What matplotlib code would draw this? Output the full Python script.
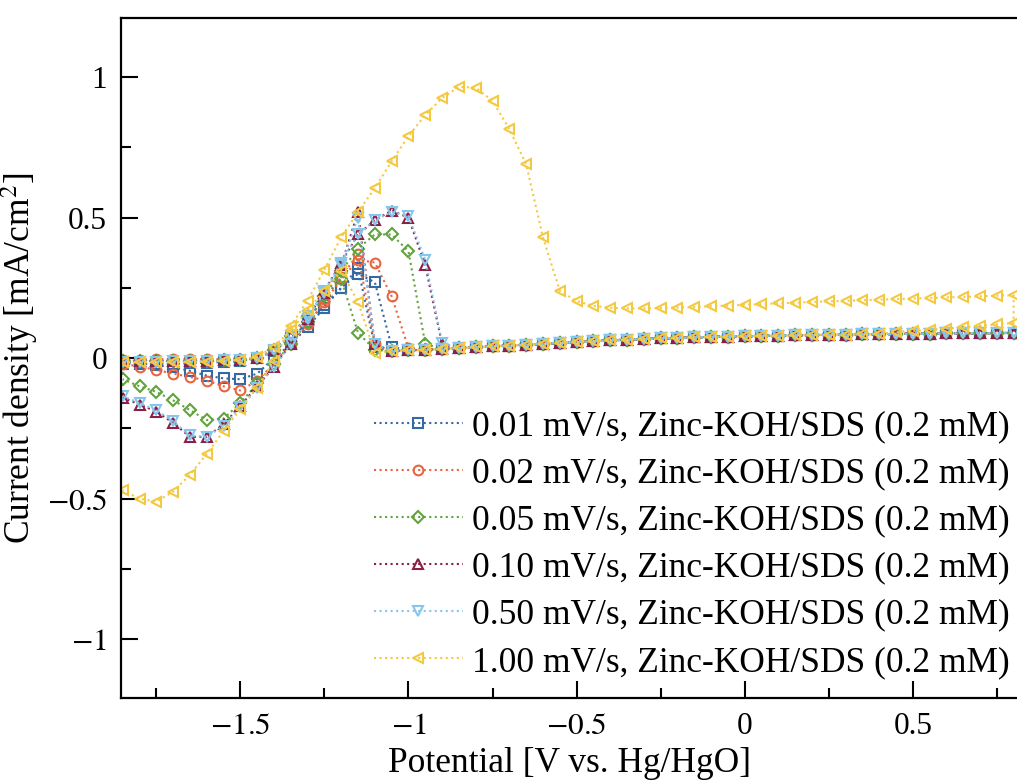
import matplotlib
matplotlib.use("Agg")
import matplotlib.pyplot as plt
import numpy as np

plt.rcParams['font.family'] = ['Liberation Serif', 'DejaVu Serif']
plt.rcParams['mathtext.fontset'] = 'stix'

# potential sweep [V vs. Hg/HgO]
potential = [-1.85, -1.80, -1.75, -1.70, -1.65, -1.60, -1.55, -1.50, -1.45, -1.40,
             -1.35, -1.30, -1.25, -1.20, -1.15, -1.10, -1.05, -1.00, -0.95, -0.90,
             -0.85, -0.80, -0.75, -0.70, -0.65, -0.60, -0.55, -0.50, -0.45, -0.40,
             -0.35, -0.30, -0.25, -0.20, -0.15, -0.10, -0.05, 0.00, 0.05, 0.10,
             0.15, 0.20, 0.25, 0.30, 0.35, 0.40, 0.45, 0.50, 0.55, 0.60,
             0.65, 0.70, 0.75, 0.80]

# passive region current (from -1.05 V upward), shared by all the slow scans
j_passive = [0.025, 0.028, 0.030, 0.033, 0.036, 0.039, 0.042, 0.045, 0.048, 0.051,
             0.054, 0.057, 0.060, 0.063, 0.066, 0.068, 0.070, 0.072, 0.074, 0.076,
             0.077, 0.078, 0.079, 0.080, 0.081, 0.082, 0.083, 0.084, 0.085, 0.085,
             0.086, 0.087, 0.087, 0.088, 0.088, 0.089, 0.089, 0.090]

# forward sweep, -1.85 .. -1.10 V
fwd_001 = [-0.020, -0.020, -0.020, -0.020, -0.018, -0.016, -0.014, -0.010, 0.000, 0.025,
           0.070, 0.130, 0.190, 0.250, 0.320, 0.040]
fwd_002 = [-0.005, -0.005, -0.004, -0.004, -0.004, -0.003, -0.003, -0.002, 0.000, 0.030,
           0.080, 0.140, 0.210, 0.290, 0.370, 0.050]
fwd_005 = [-0.010, -0.010, -0.010, -0.010, -0.010, -0.010, -0.008, -0.006, 0.000, 0.030,
           0.080, 0.150, 0.220, 0.280, 0.090, 0.030]
fwd_010 = [-0.010, -0.010, -0.010, -0.010, -0.010, -0.010, -0.008, -0.006, 0.000, 0.030,
           0.080, 0.150, 0.230, 0.330, 0.520, 0.050]
fwd_050 = [-0.012, -0.012, -0.012, -0.011, -0.011, -0.010, -0.008, -0.006, 0.000, 0.030,
           0.080, 0.150, 0.230, 0.330, 0.500, 0.050]
fwd_100 = [-0.015, -0.015, -0.015, -0.015, -0.014, -0.012, -0.010, -0.006, 0.005, 0.040,
           0.100, 0.170, 0.240, 0.310, 0.200, 0.020]
# 1.00 mV/s forward sweep leaves the passive band above 0.40 V
fwd_100_tail = [0.093, 0.097, 0.100, 0.105, 0.110, 0.115, 0.120, 0.125]

# reverse sweep, -1.85 V upward to where it rejoins the passive band
rev_001 = [-0.012, -0.018, -0.025, -0.033, -0.045, -0.062, -0.072, -0.075, -0.055, 0.000,
           0.050, 0.110, 0.180, 0.250, 0.300, 0.270, 0.040]
rev_002 = [-0.020, -0.030, -0.042, -0.055, -0.067, -0.080, -0.100, -0.115, -0.080, -0.020,
           0.050, 0.120, 0.200, 0.280, 0.350, 0.340, 0.220, 0.035]
rev_005 = [-0.075, -0.100, -0.120, -0.150, -0.185, -0.220, -0.215, -0.160, -0.090, -0.020,
           0.050, 0.130, 0.220, 0.310, 0.390, 0.440, 0.440, 0.380, 0.050]
rev_010 = [-0.140, -0.165, -0.190, -0.230, -0.280, -0.280, -0.235, -0.170, -0.100, -0.030,
           0.050, 0.140, 0.240, 0.340, 0.440, 0.490, 0.525, 0.500, 0.330, 0.050]
rev_050 = [-0.135, -0.160, -0.185, -0.225, -0.275, -0.280, -0.240, -0.175, -0.105, -0.030,
           0.050, 0.140, 0.240, 0.340, 0.440, 0.490, 0.520, 0.505, 0.350, 0.055]
rev_100 = [-0.470, -0.500, -0.510, -0.475, -0.415, -0.340, -0.260, -0.180, -0.105, -0.010,
           0.115, 0.205, 0.315, 0.430, 0.520, 0.605, 0.700, 0.790, 0.865, 0.925,
           0.965, 0.962, 0.915, 0.815, 0.690, 0.430, 0.240, 0.203, 0.186, 0.179,
           0.177, 0.177, 0.178, 0.180, 0.182, 0.185, 0.187, 0.190, 0.192, 0.195,
           0.197, 0.200, 0.202, 0.204, 0.206, 0.208, 0.210, 0.212, 0.214, 0.216,
           0.218, 0.220, 0.222, 0.224]

labels = ['0.01 mV/s, Zinc-KOH/SDS (0.2 mM)', '0.02 mV/s, Zinc-KOH/SDS (0.2 mM)',
          '0.05 mV/s, Zinc-KOH/SDS (0.2 mM)', '0.10 mV/s, Zinc-KOH/SDS (0.2 mM)',
          '0.50 mV/s, Zinc-KOH/SDS (0.2 mM)', '1.00 mV/s, Zinc-KOH/SDS (0.2 mM)']
colors = ['#3469a3', '#e8653f', '#62a33f', '#8c1f45', '#86c6ec', '#f4c93f']
markers = ['s', 'o', 'D', '^', 'v', '<']


def full_branch(head, tail=None):
    n = len(head)
    rest = j_passive[n - 16:]
    if tail is not None:
        rest = rest[:len(rest) - len(tail)] + tail
    return head + rest


fwd = [full_branch(fwd_001), full_branch(fwd_002), full_branch(fwd_005),
       full_branch(fwd_010), full_branch(fwd_050), full_branch(fwd_100, fwd_100_tail)]
rev = [full_branch(rev_001), full_branch(rev_002), full_branch(rev_005),
       full_branch(rev_010), full_branch(rev_050), rev_100]

fig = plt.figure(figsize=(10.17, 7.82), dpi=100)
ax = fig.add_axes([0.119, 0.107, 0.881, 0.870])

for i in range(6):
    x = np.array(potential + potential[::-1])
    y = np.array(fwd[i] + rev[i][::-1])
    ax.plot(x, y, linestyle=':', linewidth=1.5, color=colors[i], marker=markers[i],
            markersize=7 if markers[i] != 'D' else 6, markerfacecolor='none',
            markeredgewidth=1.5, label=labels[i])

ax.set_xlim(-1.855, 0.81)
ax.set_ylim(-1.21, 1.21)
ax.set_xticks([-1.5, -1, -0.5, 0, 0.5])
ax.set_xticklabels(['$-1.5$', '$-1$', '$-0.5$', '0', '0.5'])
ax.set_yticks([-1, -0.5, 0, 0.5, 1])
ax.set_yticklabels(['$-1$', '$-0.5$', '0', '0.5', '1'])
ax.set_xticks([-1.75, -1.25, -0.75, -0.25, 0.25, 0.75], minor=True)
ax.set_yticks([-0.75, -0.25, 0.25, 0.75], minor=True)
ax.tick_params(which='both', direction='in', top=False, right=False, labelsize=22.5, width=1.5)
ax.tick_params(which='major', length=12, pad=10)
ax.tick_params(which='minor', length=7)
for s in ax.spines.values():
    s.set_linewidth(1.6)
ax.spines['right'].set_visible(False)

ax.set_xlabel('Potential [V vs. Hg/HgO]', fontsize=25.5)
ax.set_ylabel('Current density [mA/cm$^2$]', fontsize=25.5)

ax.legend(loc='lower right', bbox_to_anchor=(1.013, 0.0), frameon=False, fontsize=25.5,
          handlelength=2.5, handletextpad=0.25, labelspacing=0.4, borderaxespad=0.15)

fig.savefig('out.png', dpi=100)
